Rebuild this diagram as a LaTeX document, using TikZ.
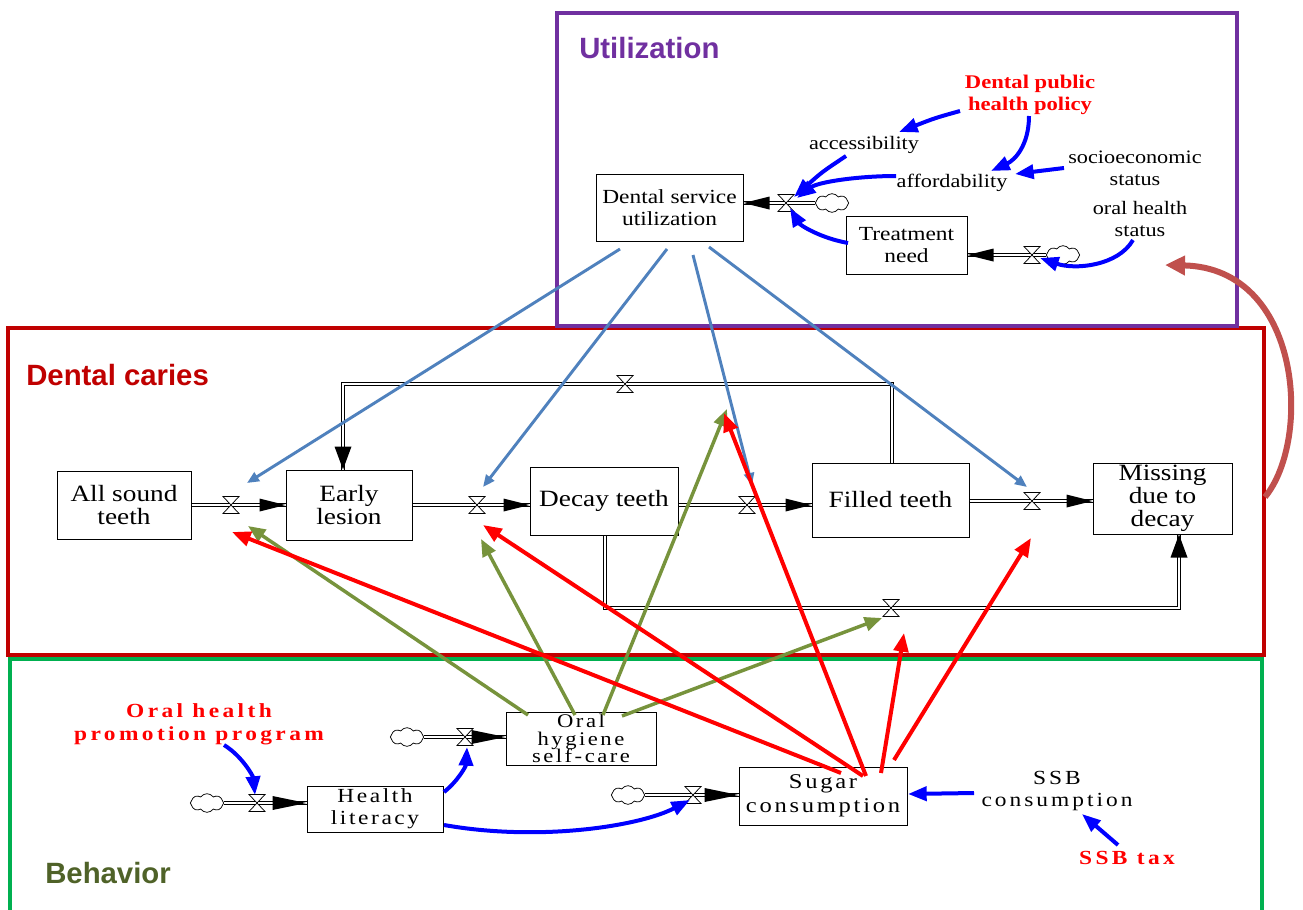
\documentclass[tikz,border=0pt]{standalone}
\usepackage{fontspec}
\setmainfont{Liberation Serif}[FakeStretch=1.17]
\newfontfamily\titlefont{Liberation Sans}
\usetikzlibrary{arrows.meta,shapes.symbols}
\definecolor{upurple}{HTML}{7030A0}
\definecolor{cred}{HTML}{C00000}
\definecolor{bgreen}{HTML}{00B050}
\definecolor{btext}{HTML}{4F6228}
\definecolor{steel}{HTML}{4F81BD}
\definecolor{olivearrow}{HTML}{77933C}
\definecolor{brick}{HTML}{C0504D}
\definecolor{pured}{HTML}{FF0000}
\definecolor{pblue}{HTML}{0000FF}
\newcommand\fs[2]{\fontsize{#1}{#2}\selectfont}
\newcommand\tipE[1]{\fill #1 -- ++(-26,-6.5) -- ++(0,13) -- cycle;}
\newcommand\tipW[1]{\fill #1 -- ++(26,-6.5) -- ++(0,13) -- cycle;}
\newcommand\tipLongE[1]{\fill #1 -- ++(-34,-7) -- ++(0,14) -- cycle;}
\newcommand\tipS[1]{\fill #1 -- ++(-8.5,-23) -- ++(17,0) -- cycle;}
\newcommand\tipN[1]{\fill #1 -- ++(-8.5,23) -- ++(17,0) -- cycle;}
\newcommand\flowpath[1]{\draw[pipeouter] #1; \draw[pipeinner] #1;}
\begin{document}
\begin{tikzpicture}[x=0.75pt,y=-0.75pt,
  box/.style={draw=black, line width=0.75pt, fill=white, align=center, inner sep=0pt},
  bw/.style={minimum width=#1*0.75pt},
  bh/.style={minimum height=#1*0.75pt},
  lbl/.style={align=center, inner sep=0pt},
  title/.style={anchor=west, inner sep=0pt, font=\titlefont\bfseries\fs{22}{26}},
  frameline/.style={line width=3pt},
  pipeouter/.style={draw=black, line width=3.6pt},
  pipeinner/.style={draw=white, line width=2.2pt},
  cloudy/.style={cloud, cloud puffs=8, cloud puff arc=110, draw=black, line width=0.55pt, fill=white, minimum width=25pt, minimum height=14pt, inner sep=0pt},
  valve/.pic={\draw[line width=0.55pt, fill=white] (-8,-8.5) -- (8,-8.5) -- (-8,8.5) -- (8,8.5) -- cycle;},
  sblue/.style={draw=steel, line width=2.2pt, -{Triangle[length=9pt,width=7.5pt]}},
  gline/.style={draw=olivearrow, line width=2.6pt, -{Triangle[length=13pt,width=10.5pt]}},
  rline/.style={draw=pured, line width=3pt, -{Triangle[length=14pt,width=11pt]}},
  bline/.style={draw=pblue, line width=3pt, -{Triangle[length=14pt,width=10.5pt]}},
  brline/.style={draw=brick, line width=4.5pt, -{Triangle[length=15pt,width=14pt]}},
  boxsm/.style={box, font=\fs{15}{17}},
  boxcar/.style={box, font=\fs{17.5}{17.5}},
  boxbeh/.style={box, font=\addfontfeature{LetterSpace=13}\fs{15}{16.5}},
  varlbl/.style={lbl, font=\fs{14.25}{16.5}},
  redlbl/.style={lbl, text=pured, font=\bfseries\fs{14.5}{17}}
]
\useasboundingbox (0,0) rectangle (1303,910);
\fill[white] (0,0) rectangle (1303,910);

% ---------- frames ----------
\draw[frameline, cred] (8,328) rectangle (1264,655);
\draw[frameline, upurple] (557,13) rectangle (1237,326);
\draw[frameline, bgreen] (10,915) -- (10,659) -- (1262,659) -- (1262,915);

\node[title, text=upurple] (tu) at (579,48) {Utilization};
\node[title, text=cred] (tc) at (26,375) {Dental caries};
\node[title, text=btext] (tb) at (45,873) {Behavior};

% ---------- valve positions ----------
\coordinate (v1) at (231,505);
\coordinate (v2) at (477,505);
\coordinate (v3) at (747,505);
\coordinate (v4) at (1032,501);
\coordinate (v5) at (786,203);
\coordinate (v6) at (1032,255);
\coordinate (v7) at (257,803);
\coordinate (v8) at (465,737);
\coordinate (v9) at (693,795);
\coordinate (v10) at (625,384);
\coordinate (v11) at (891,608);
\coordinate (tl1) at (892,384);
\coordinate (tl2) at (343,384);
\coordinate (bl1) at (605,608);
\coordinate (bl2) at (1179,608);

% ---------- stocks ----------
\node[boxsm, bw=147, bh=67] (dsu) at (669.5,207.5) {Dental service\\utilization};
\node[boxsm, bw=121, bh=58] (tn) at (906.5,245) {Treatment\\need};

\node[boxcar, bw=134, bh=68] (all) at (124,505) {All sound\\teeth};
\node[boxcar, bw=126, bh=70] (early) at (349,505) {Early\\lesion};
\node[boxcar, bw=148, bh=68] (decay) at (604,501) {Decay teeth};
\node[boxcar, bw=157, bh=74] (filled) at (890.5,500) {Filled teeth};
\node[boxcar, bw=139, bh=71, font=\fs{17.5}{17.2}] (missing) at (1162.5,498.5) {Missing\\due to\\decay};

\node[box, bw=150, bh=53, font=\addfontfeature{LetterSpace=13}\fs{14.5}{13.4}] (oh) at (581,738.5) {Oral\\hygiene\\self-care};
\node[boxbeh, bw=136, bh=46] (hl) at (375,809) {Health\\literacy};
\node[box, bw=168, bh=58, font=\addfontfeature{LetterSpace=13}\fs{15.75}{18}] (sc) at (823,796) {Sugar\\consumption};

% ---------- clouds ----------
\node[cloudy] (c5) at (832,203) {};
\node[cloudy] (c6) at (1063,255) {};
\node[cloudy] (c7) at (207,803) {};
\node[cloudy] (c8) at (407,737) {};
\node[cloudy] (c9) at (628,795) {};

% ---------- pipes ----------
\flowpath{(all.east |- v1) -- (early.west |- v1)}
\flowpath{(early.east |- v2) -- (decay.west |- v2)}
\flowpath{(decay.east |- v3) -- (filled.west |- v3)}
\flowpath{(filled.east |- v4) -- (missing.west |- v4)}
\flowpath{(filled.north -| tl1) -- (tl1) -- (tl2) -- (early.north -| tl2)}
\flowpath{(decay.south -| bl1) -- (bl1) -- (bl2) -- (missing.south -| bl2)}
\flowpath{(c5.west) -- (dsu.east |- c5.west)}
\flowpath{(c6.west) -- (tn.east |- c6.west)}
\flowpath{(c7.east) -- (hl.west |- c7.east)}
\flowpath{(c8.east) -- (oh.west |- c8.east)}
\flowpath{(c9.east) -- (sc.west |- c9.east)}

% ---------- valves ----------
\foreach \v in {v1,v2,v3,v4,v5,v6,v7,v8,v9,v10,v11} { \pic at (\v) {valve}; }

% ---------- flow tips ----------
\tipE{(early.west |- v1)}
\tipE{(decay.west |- v2)}
\tipE{(filled.west |- v3)}
\tipE{(missing.west |- v4)}
\tipS{(early.north -| tl2)}
\tipN{(missing.south -| bl2)}
\tipW{(dsu.east |- c5.west)}
\tipW{(tn.east |- c6.west)}
\tipLongE{(hl.west |- c7.east)}
\tipLongE{(oh.west |- c8.east)}
\tipLongE{(sc.west |- c9.east)}

% ---------- auxiliary variables ----------
\node[varlbl] (acc) at (864,145) {accessibility};
\node[varlbl] (aff) at (952,183) {affordability};
\node[varlbl] (soc) at (1135,168) {socioeconomic\\status};
\node[varlbl] (ohs) at (1140,219) {oral health\\status};
\node[redlbl] (pol) at (1030,95) {Dental public\\health policy};
\node[lbl, text=pured, font=\bfseries\addfontfeature{LetterSpace=17}\fs{15}{17}] (ohp) at (199,724) {Oral health\\promotion program};
\node[lbl, font=\addfontfeature{LetterSpace=15}\fs{15}{17}] (ssbc) at (1057,791) {SSB\\consumption};
\node[lbl, text=pured, font=\bfseries\addfontfeature{LetterSpace=17}\fs{15}{17}] (ssbt) at (1127,858) {SSB tax};

% ---------- arrow end coordinates ----------
\coordinate (s1a) at (620,249); \coordinate (s1b) at (247,483);
\coordinate (s2a) at (667,249); \coordinate (s2b) at (483,487);
\coordinate (s3a) at (693,255); \coordinate (s3b) at (752,485);
\coordinate (s4a) at (709,247); \coordinate (s4b) at (1027,487);

\coordinate (r1a) at (841,773); \coordinate (r1b) at (232,532);
\coordinate (r2a) at (863,776); \coordinate (r2b) at (483,525);
\coordinate (r3a) at (866,776); \coordinate (r3b) at (724,413);
\coordinate (r4a) at (881,773); \coordinate (r4b) at (904,633);
\coordinate (r5a) at (894,760); \coordinate (r5b) at (1031,538);

\coordinate (g1a) at (528,715); \coordinate (g1b) at (248,526);
\coordinate (g2a) at (575,715); \coordinate (g2b) at (481,539);
\coordinate (g3a) at (603,715); \coordinate (g3b) at (727,409);
\coordinate (g4a) at (622,716); \coordinate (g4b) at (882,618);

% ---------- steel blue: utilization -> flows ----------
\draw[sblue] (s1a) -- (s1b);
\draw[sblue] (s2a) -- (s2b);
\draw[sblue] (s3a) -- (s3b);
\draw[sblue] (s4a) -- (s4b);

% ---------- green: oral hygiene -> flows ----------
\draw[gline] (g1a) -- (g1b);
\draw[gline] (g2a) -- (g2b);
\draw[gline] (g3a) -- (g3b);
\draw[gline] (g4a) -- (g4b);

% ---------- red: sugar -> flows ----------
\draw[rline] (r1a) -- (r1b);
\draw[rline] (r2a) -- (r2b);
\draw[rline] (r3a) -- (r3b);
\draw[rline] (r4a) -- (r4b);
\draw[rline] (r5a) -- (r5b);

% ---------- blue causal links (utilization) ----------
\coordinate (b1a) at (960,111); \coordinate (b1b) at (899,132);
\coordinate (b2a) at (1029,116); \coordinate (b2b) at (991,171);
\coordinate (b3a) at (846,156); \coordinate (b3b) at (794,197);
\coordinate (b4a) at (896,176); \coordinate (b4b) at (797,198);
\coordinate (b5a) at (1064,168); \coordinate (b5b) at (1015,174);
\coordinate (b6a) at (848,243); \coordinate (b6b) at (790,208);
\coordinate (b7a) at (1133,240); \coordinate (b7b) at (1040,258);
\draw[bline] (b1a) .. controls (935,118) .. (b1b);
\draw[bline] (b2a) .. controls (1029,145) and (1015,160) .. (b2b);
\draw[bline] (b3a) .. controls (822,172) .. (b3b);
\draw[bline] (b4a) .. controls (858,176) and (818,182) .. (b4b);
\draw[bline] (b5a) -- (b5b);
\draw[bline] (b6a) .. controls (820,238) and (800,225) .. (b6b);
\draw[bline] (b7a) .. controls (1118,266) and (1075,270) .. (b7b);

% ---------- blue causal links (behavior) ----------
\coordinate (b8a) at (224,745); \coordinate (b8b) at (255,795);
\coordinate (b9a) at (444,792); \coordinate (b9b) at (467,747);
\coordinate (b10a) at (444,825); \coordinate (b10b) at (690,800);
\coordinate (b11a) at (974,793); \coordinate (b11b) at (908,794);
\coordinate (b12a) at (1118,845); \coordinate (b12b) at (1082,814);
\draw[bline] (b8a) .. controls (242,756) and (253,776) .. (b8b);
\draw[bline] (b9a) .. controls (458,781) and (466,766) .. (b9b);
\draw[bline] (b10a) .. controls (540,842) and (640,826) .. (b10b);
\draw[bline] (b11a) -- (b11b);
\draw[bline] (b12a) -- (b12b);

% ---------- brick: missing -> oral health status ----------
\coordinate (bra) at (1265,497); \coordinate (brb) at (1165,265);
\draw[brline] (bra) .. controls (1312,440) and (1302,268) .. (brb);
\end{tikzpicture}
\end{document}
